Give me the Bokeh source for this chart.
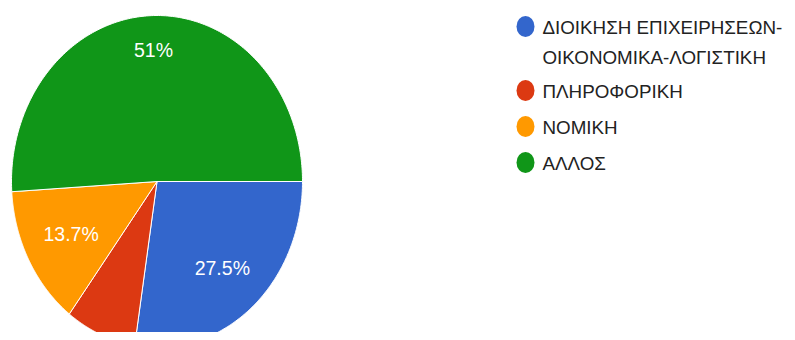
import numpy as np
from bokeh.plotting import figure
from bokeh.models import Range1d
from bokeh.embed import file_html
from bokeh.resources import INLINE
from bokeh.core.properties import value

# ---- data ----
categories = ["ΔΙΟΙΚΗΣΗ ΕΠΙΧΕΙΡΗΣΕΩΝ-ΟΙΚΟΝΟΜΙΚΑ-ΛΟΓΙΣΤΙΚΗ", "ΠΛΗΡΟΦΟΡΙΚΗ", "ΝΟΜΙΚΗ", "ΑΛΛΟΣ"]
legend_lines = [["ΔΙΟΙΚΗΣΗ ΕΠΙΧΕΙΡΗΣΕΩΝ-", "ΟΙΚΟΝΟΜΙΚΑ-ΛΟΓΙΣΤΙΚΗ"], ["ΠΛΗΡΟΦΟΡΙΚΗ"], ["ΝΟΜΙΚΗ"], ["ΑΛΛΟΣ"]]
counts = [14, 4, 7, 26]
pct_labels = ["27.5%", "", "13.7%", "51%"]
colors = ["#3366cc", "#dc3912", "#ff9900", "#109618"]

# ---- layout (pixels in figure) ----
W, H = 787, 332
CX, CY = 156.5, 181.0        # pie centre
RX, RY = 145.5, 166.0        # pie radii (stretched ellipse)
LABEL_R = [0.69, 0.69, 0.67, 0.79]
FONT = "Liberation Sans"
FS_LABEL = "19.5px"
FS_LEGEND = "18.8px"

def X(px):
    return (px - CX) / RX

def Y(py):
    return (CY - py) / RY

p = figure(width=W, height=H, output_backend="svg", toolbar_location=None,
           x_range=Range1d(X(0), X(W)), y_range=Range1d(Y(H), Y(0)),
           min_border=0, background_fill_color="white", border_fill_color="white",
           outline_line_color=None)
p.axis.visible = False
p.grid.visible = False

total = float(sum(counts))
fracs = np.array(counts) / total
starts = np.concatenate([[0], np.cumsum(fracs)[:-1]])
ends = np.cumsum(fracs)

xs, ys = [], []
for s, e in zip(starts, ends):
    t = -2 * np.pi * np.linspace(s, e, 200)
    xs.append(np.concatenate([[0.0], np.cos(t)]).tolist())
    ys.append(np.concatenate([[0.0], np.sin(t)]).tolist())
p.patches(xs, ys, fill_color=colors, line_color="white", line_width=1)

# percentage labels
lx, ly, lt = [], [], []
for s, e, lab, r in zip(starts, ends, pct_labels, LABEL_R):
    if not lab:
        continue
    m = -2 * np.pi * (s + e) / 2
    lx.append(r * np.cos(m)); ly.append(r * np.sin(m)); lt.append(lab)
p.text(lx, ly, text=lt, text_color="white", text_font=value(FONT),
       text_font_size=FS_LABEL, text_align="center", text_baseline="middle")

# legend
marker_px = 525
text_px = 542
row_py = [26, 90, 126, 162]
line_h = 30
mx, my, tx, ty, tt = [], [], [], [], []
for lines, py in zip(legend_lines, row_py):
    mx.append(X(marker_px)); my.append(Y(py))
    for k, ln in enumerate(lines):
        tx.append(X(text_px)); ty.append(Y(py + 1 + k * line_h)); tt.append(ln)
p.ellipse(mx, my, width=18, height=21, width_units="screen", height_units="screen",
          fill_color=colors, line_color=None)
p.text(tx, ty, text=tt, text_color="#222222", text_font=value(FONT),
       text_font_size=FS_LEGEND, text_align="left", text_baseline="middle")

open("out.html", "w").write(file_html(p, INLINE))
